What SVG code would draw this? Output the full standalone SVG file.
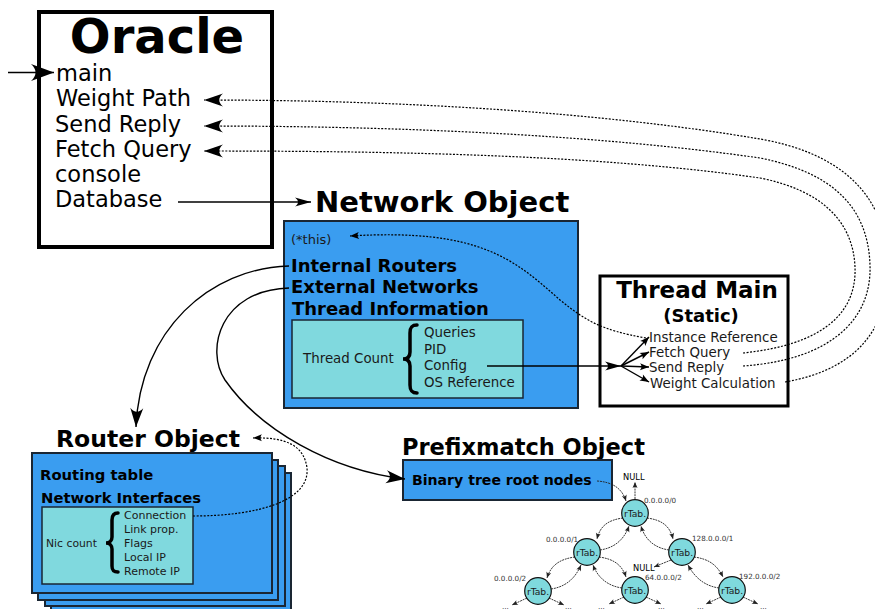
<svg xmlns="http://www.w3.org/2000/svg" width="875" height="609" viewBox="0 0 875 609">
<style>
.t{font-family:"DejaVu Sans","Liberation Sans",sans-serif;fill:#000}
.b{font-weight:bold}
.s{fill:#1a1a1a}
.blue{fill:#3a9df0;stroke:#1a2633;stroke-width:2}
.cyan{fill:#80d9de;stroke:#1a2633;stroke-width:1.5}
.ln{fill:none;stroke:#000;stroke-width:1.4}
.dot{fill:none;stroke:#000;stroke-width:1.2;stroke-dasharray:2 1.5}
.tr{fill:none;stroke:#222;stroke-width:0.9;stroke-dasharray:2 0.8}
.node{fill:#7fd9dd;stroke:#111;stroke-width:1.2}
.brace{fill:none;stroke:#000;stroke-width:3.5;stroke-linecap:round}
.lab{font-family:"DejaVu Sans","Liberation Sans",sans-serif;fill:#333;font-size:7.2px}
</style>
<defs>
<marker id="mBig" markerUnits="userSpaceOnUse" viewBox="-24 -9 25 18" markerWidth="25" markerHeight="18" refX="0" refY="0" orient="auto"><path d="M0,0 L-23,-8.5 C-17,-3 -17,3 -23,8.5 Z" fill="#000"/></marker>
<marker id="mMed" markerUnits="userSpaceOnUse" viewBox="-20 -7 21 14" markerWidth="21" markerHeight="14" refX="0" refY="0" orient="auto"><path d="M0,0 L-19,-6.5 C-14,-2.5 -14,2.5 -19,6.5 Z" fill="#000"/></marker>
<marker id="mSlim" markerUnits="userSpaceOnUse" viewBox="-17 -5 18 10" markerWidth="18" markerHeight="10" refX="0" refY="0" orient="auto"><path d="M0,0 L-16,-4.5 C-12,-1.5 -12,1.5 -16,4.5 Z" fill="#000"/></marker>
<marker id="mSm" markerUnits="userSpaceOnUse" viewBox="-10 -4 11 8" markerWidth="11" markerHeight="8" refX="0" refY="0" orient="auto"><path d="M0,0 L-9,-3.5 C-7,-1 -7,1 -9,3.5 Z" fill="#000"/></marker>
<marker id="mXs" markerUnits="userSpaceOnUse" viewBox="-7 -3 8 6" markerWidth="8" markerHeight="6" refX="0" refY="0" orient="auto"><path d="M0,0 L-6,-2.5 C-4.5,-0.8 -4.5,0.8 -6,2.5 Z" fill="#222"/></marker>
</defs>
<rect width="875" height="609" fill="#fff"/>

<g id="oracle">
<rect x="39" y="12" width="233" height="235" fill="#fff" stroke="#000" stroke-width="4"/>
<text class="t b" x="157" y="53" font-size="48" text-anchor="middle">Oracle</text>
<text class="t" x="56" y="80.5" font-size="22.5">main</text>
<text class="t" x="56" y="106" font-size="22.5">Weight Path</text>
<text class="t" x="55" y="132" font-size="22.5">Send Reply</text>
<text class="t" x="55" y="157" font-size="22.5">Fetch Query</text>
<text class="t" x="55" y="182" font-size="22.5">console</text>
<text class="t" x="55" y="207" font-size="22.5">Database</text>
</g>

<g id="network">
<text class="t b" x="315" y="212" font-size="29">Network Object</text>
<rect class="blue" x="284" y="221" width="294" height="187"/>
<text class="t s" x="291" y="244" font-size="13">(*this)</text>
<text class="t b" x="291" y="271.5" font-size="18">Internal Routers</text>
<text class="t b" x="291" y="293" font-size="18">External Networks</text>
<text class="t b" x="292" y="315" font-size="18">Thread Information</text>
<rect class="cyan" x="292" y="320" width="231" height="78"/>
<text class="t s" x="303" y="363" font-size="13.4">Thread Count</text>
<path class="brace" d="M417,325 C411,325 410,328 410,333 L410,352 C410,356 408,359 403,359 C408,359 410,362 410,366 L410,385 C410,390 411,393 417,393"/>
<text class="t s" x="424" y="336.5" font-size="13.4">Queries</text>
<text class="t s" x="424" y="354" font-size="13.4">PID</text>
<text class="t s" x="424" y="370" font-size="13.4">Config</text>
<text class="t s" x="424" y="387" font-size="13.4">OS Reference</text>
</g>

<g id="threadmain">
<rect x="600" y="276" width="188" height="130" fill="#fff" stroke="#000" stroke-width="3"/>
<text class="t b" x="697" y="298" font-size="23" text-anchor="middle">Thread Main</text>
<text class="t b" x="701" y="321.5" font-size="18" text-anchor="middle">(Static)</text>
<text class="t s" x="649" y="342" font-size="13.4">Instance Reference</text>
<text class="t s" x="649" y="357" font-size="13.4">Fetch Query</text>
<text class="t s" x="649" y="372" font-size="13.4">Send Reply</text>
<text class="t s" x="650" y="387.5" font-size="13.4">Weight Calculation</text>
</g>

<g id="router">
<text class="t b" x="56" y="447" font-size="23.5">Router Object</text>
<rect class="blue" x="51" y="473" width="240" height="140" stroke-width="1.8"/>
<rect class="blue" x="45" y="466" width="240" height="140" stroke-width="1.8"/>
<rect class="blue" x="38" y="460" width="240" height="140" stroke-width="1.8"/>
<rect class="blue" x="32" y="453" width="240" height="140" stroke-width="1.8"/>
<text class="t b" x="40" y="479.5" font-size="14.8">Routing table</text>
<text class="t b" x="41" y="503" font-size="14.8">Network Interfaces</text>
<rect class="cyan" x="42" y="507" width="151" height="77"/>
<text class="t s" x="46" y="547" font-size="10.8">Nic count</text>
<path class="brace" stroke-width="3" d="M118,513 C113,513 112,516 112,520 L112,537 C112,540 110,543 106,543 C110,543 112,546 112,549 L112,566 C112,570 113,572 118,572"/>
<text class="t s" x="124" y="519" font-size="11">Connection</text>
<text class="t s" x="124" y="533" font-size="11">Link prop.</text>
<text class="t s" x="124" y="547" font-size="11">Flags</text>
<text class="t s" x="124" y="561" font-size="11">Local IP</text>
<text class="t s" x="124" y="574.5" font-size="11">Remote IP</text>
</g>

<g id="prefixmatch">
<text class="t b" x="402" y="455" font-size="22.5">Prefixmatch Object</text>
<rect class="blue" x="403" y="460" width="209" height="40"/>
<text class="t b" x="412" y="485" font-size="14.1">Binary tree root nodes</text>
</g>

<g id="tree-labels">
<text class="t" x="623" y="480" font-size="8.3" fill="#222">NULL</text>
<text class="lab" x="644" y="503">0.0.0.0/0</text>
<text class="lab" x="692" y="541">128.0.0.0/1</text>
<text class="lab" x="546" y="542">0.0.0.0/1</text>
<text class="t" x="633" y="570.5" font-size="8.3" fill="#222">NULL</text>
<text class="lab" x="645" y="580">64.0.0.0/2</text>
<text class="lab" x="739" y="579">192.0.0.0/2</text>
<text class="lab" x="494" y="581">0.0.0.0/2</text>
<text class="lab" x="502" y="608.5">...</text>
<text class="lab" x="565" y="608.5">...</text>
<text class="lab" x="598" y="608.5">...</text>
<text class="lab" x="658" y="608.5">...</text>
<text class="lab" x="697" y="608.5">...</text>
<text class="lab" x="760" y="608.5">...</text>
</g>

<g id="connectors">
<path class="ln" d="M8,72.5 L54,72.5" stroke-width="1.6" marker-end="url(#mBig)"/>
<path class="ln" d="M178,202 L311,202" marker-end="url(#mSlim)"/>
<path class="dot" d="M785,382 C855,370 890,330 888,265 C886,190 835,152 760,139 C600,112 400,100 204,100" marker-end="url(#mMed)"/>
<path class="dot" d="M743,366 C830,360 872,320 870,265 C868,205 830,172 760,158 C600,135 400,126 204,126" marker-end="url(#mMed)"/>
<path class="dot" d="M743,353 C820,345 857,315 855,267 C853,220 820,190 760,178 C600,155 400,151 204,151" marker-end="url(#mMed)"/>
<path class="dot" stroke-width="1" d="M646,338 C600,330 585,320 560,300 C515,260 480,228 350,236" marker-end="url(#mSm)"/>
<path class="ln" d="M487,366 L621,366" marker-end="url(#mSlim)"/>
<path class="ln" stroke-width="1.2" d="M621,366 L649,337" marker-end="url(#mSm)"/>
<path class="ln" stroke-width="1.2" d="M621,366 L649,352" marker-end="url(#mSm)"/>
<path class="ln" stroke-width="1.2" d="M621,366 L649,367" marker-end="url(#mSm)"/>
<path class="ln" stroke-width="1.2" d="M621,366 L649,382" marker-end="url(#mSm)"/>
<path class="ln" d="M289,266 C210,268 140,330 136,427" marker-end="url(#mMed)"/>
<path class="ln" d="M289,288 C220,290 205,350 225,380 C260,430 330,470 405,479" marker-end="url(#mMed)"/>
<path class="dot" stroke-width="1" d="M193,516 C260,516 310,500 307,468 C304,445 285,437 253,438" marker-end="url(#mSm)"/>
<path class="tr" d="M597,481 C612,482 622,488 626,501" marker-end="url(#mXs)"/>
<path class="tr" d="M635,499 L635,482" marker-end="url(#mXs)"/>
<path class="tr" d="M647,518 C662,520 670,526 673,539" marker-end="url(#mXs)"/>
<path class="tr" d="M669,550 C655,548 645,540 641,526" marker-end="url(#mXs)"/>
<path class="tr" d="M623,518 C608,520 600,526 597,539" marker-end="url(#mXs)"/>
<path class="tr" d="M600,550 C614,548 624,540 629,526" marker-end="url(#mXs)"/>
<path class="tr" d="M575,557 C560,559 551,565 547,578" marker-end="url(#mXs)"/>
<path class="tr" d="M551,589 C565,587 575,579 581,565" marker-end="url(#mXs)"/>
<path class="tr" d="M599,557 C614,559 622,565 626,577" marker-end="url(#mXs)"/>
<path class="tr" d="M622,588 C608,586 598,578 593,565" marker-end="url(#mXs)"/>
<path class="tr" d="M694,557 C709,559 717,565 723,577" marker-end="url(#mXs)"/>
<path class="tr" d="M719,588 C705,586 695,578 688,565" marker-end="url(#mXs)"/>
<path class="tr" d="M671,560 L654,567" marker-end="url(#mXs)"/>
<path class="tr" d="M527,598 L512,605" marker-end="url(#mXs)"/>
<path class="tr" d="M549,598 L564,605" marker-end="url(#mXs)"/>
<path class="tr" d="M624,597 L609,604" marker-end="url(#mXs)"/>
<path class="tr" d="M646,597 L661,604" marker-end="url(#mXs)"/>
<path class="tr" d="M721,597 L706,604" marker-end="url(#mXs)"/>
<path class="tr" d="M743,597 L758,604" marker-end="url(#mXs)"/>
</g>

<g id="node-root"><circle class="node" cx="635" cy="513" r="13.3"/><text class="t s" x="635" y="516.5" font-size="9.2" text-anchor="middle">rTab.</text></g>
<g id="node-0-1"><circle class="node" cx="587" cy="552" r="13.3"/><text class="t s" x="587" y="555.5" font-size="9.2" text-anchor="middle">rTab.</text></g>
<g id="node-128-1"><circle class="node" cx="682" cy="552" r="13.3"/><text class="t s" x="682" y="555.5" font-size="9.2" text-anchor="middle">rTab.</text></g>
<g id="node-0-2"><circle class="node" cx="538" cy="591" r="13.3"/><text class="t s" x="538" y="594.5" font-size="9.2" text-anchor="middle">rTab.</text></g>
<g id="node-64-2"><circle class="node" cx="635" cy="590" r="13.3"/><text class="t s" x="635" y="593.5" font-size="9.2" text-anchor="middle">rTab.</text></g>
<g id="node-192-2"><circle class="node" cx="732" cy="590" r="13.3"/><text class="t s" x="732" y="593.5" font-size="9.2" text-anchor="middle">rTab.</text></g>
</svg>
